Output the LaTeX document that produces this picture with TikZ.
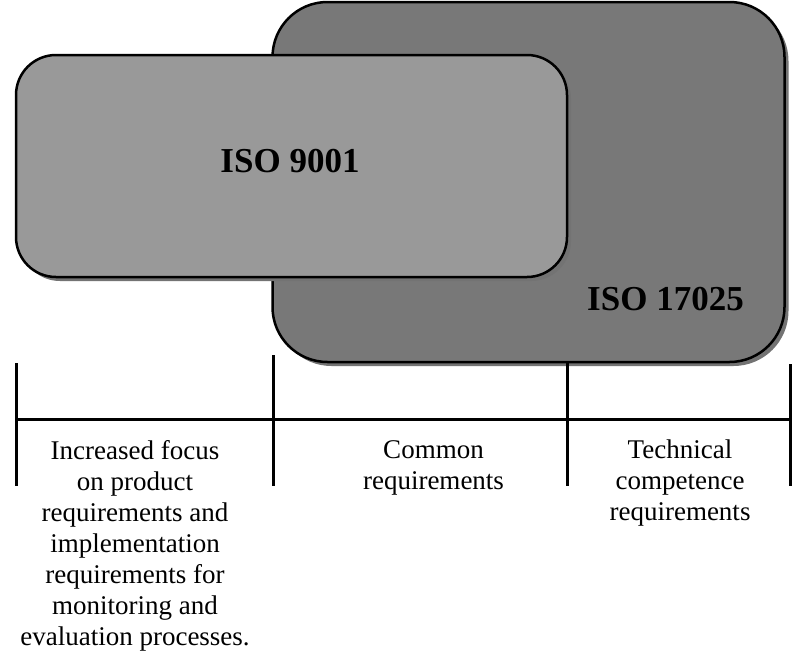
\documentclass[tikz,border=0pt]{standalone}
\usepackage{fontspec}
\setmainfont{Liberation Serif}
\usetikzlibrary{shadows}
\begin{document}
\begin{tikzpicture}[x=1pt,y=-1pt,
  stdbox/.style={draw=black, line width=2.5pt, rounded corners=48pt, inner sep=0pt,
    drop shadow={shadow xshift=4pt, shadow yshift=-4pt, fill=black!55, opacity=1}},
  title/.style={font=\fontsize{35}{40}\selectfont\bfseries, inner sep=0pt},
  body/.style={font=\fontsize{27}{31}\selectfont, align=center, inner sep=0pt, anchor=north},
  tl/.style={line width=3pt}]
\useasboundingbox (0,0) rectangle (800,667);
% ISO 17025 box
\node[stdbox, fill=black!53, minimum width=512pt, minimum height=360pt, rounded corners=55pt] (big) at (528.5,182) {};
% ISO 9001 box
\node[stdbox, fill=black!40, minimum width=551pt, minimum height=222pt, rounded corners=40pt] (small) at (291.5,166) {};
\node[title] (t9001) at (290,161) {ISO 9001};
\node[title] (t17025) at (665.5,299) {ISO 17025};
% timeline
\coordinate (l) at (16,419);
\coordinate (r) at (790,419);
\coordinate (a1) at (16,363);  \coordinate (a2) at (16,486);
\coordinate (b1) at (273,355); \coordinate (b2) at (273,486);
\coordinate (c1) at (567,362); \coordinate (c2) at (567,486);
\coordinate (d1) at (790,364); \coordinate (d2) at (790,486);
\draw[tl] (l) -- (r);
\draw[tl] (a1) -- (a2);
\draw[tl] (b1) -- (b2);
\draw[tl] (c1) -- (c2);
\draw[tl] (d1) -- (d2);
% labels
\node[body] (lab1) at (135,440) {Increased focus\\on product\\requirements and\\implementation\\requirements for\\monitoring and\\evaluation processes.};
\node[body] (lab2) at (433.5,440) {Common\\requirements};
\node[body] (lab3) at (680,440) {Technical\\competence\\requirements};
\end{tikzpicture}
\end{document}
